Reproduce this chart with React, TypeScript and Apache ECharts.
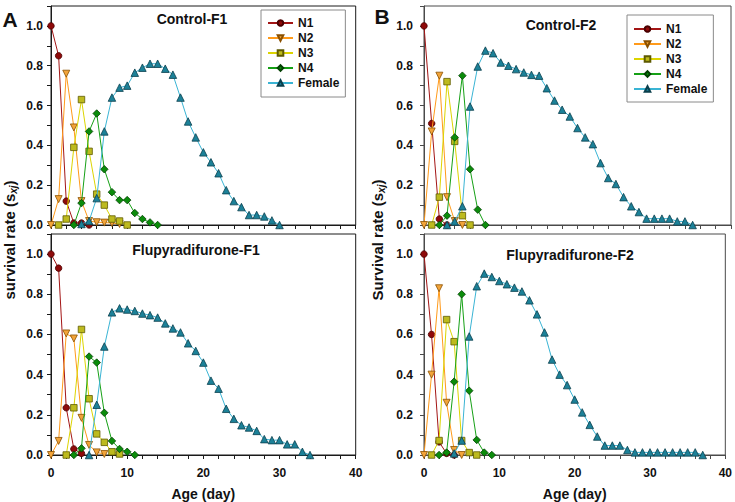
import React, { useEffect, useRef } from "react";
import * as echarts from "echarts";

// ---- Data (age in days starts at *_start; values = survival rate) ----
const seriesNames = ["N1", "N2", "N3", "N4", "Female"];
const panelTitles = ["Control-F1", "Flupyradifurone-F1", "Control-F2", "Flupyradifurone-F2"];
const xTickLabels = [0, 10, 20, 30, 40];

// Control-F1
const cf1_N1_start = 0;
const cf1_N1 = [1.0, 0.85, 0.12, 0.01, 0.01, 0];
const cf1_N2_start = 0;
const cf1_N2 = [0, 0.13, 0.76, 0.49, 0.12, 0.02, 0.014, 0.012, 0.01, 0.005];
const cf1_N3_start = 1;
const cf1_N3 = [0, 0.03, 0.39, 0.63, 0.37, 0.155, 0.1, 0.03, 0.02, 0];
const cf1_N4_start = 3;
const cf1_N4 = [0, 0.11, 0.47, 0.56, 0.28, 0.165, 0.125, 0.125, 0.06, 0.03, 0.013, 0];
const cf1_F_start = 4;
const cf1_F = [0.005, 0.02, 0.135, 0.47, 0.64, 0.69, 0.7, 0.765, 0.79, 0.81, 0.81, 0.785, 0.755, 0.64, 0.52, 0.44, 0.365, 0.315, 0.26, 0.175, 0.12, 0.09, 0.05, 0.05, 0.043, 0.023, 0];

// Flupyradifurone-F1
const ff1_N1_start = 0;
const ff1_N1 = [1.0, 0.93, 0.235, 0.03, 0.008];
const ff1_N2_start = 0;
const ff1_N2 = [0, 0.07, 0.605, 0.58, 0.185, 0.05, 0.013, 0.005];
const ff1_N3_start = 2;
const ff1_N3 = [0, 0.235, 0.625, 0.28, 0.105, 0.063, 0.016, 0.005];
const ff1_N4_start = 3;
const ff1_N4 = [0, 0.033, 0.49, 0.46, 0.21, 0.07, 0.03, 0.016, 0];
const ff1_F_start = 5;
const ff1_F = [0, 0.25, 0.54, 0.71, 0.73, 0.724, 0.717, 0.704, 0.696, 0.684, 0.655, 0.63, 0.61, 0.556, 0.518, 0.46, 0.37, 0.33, 0.23, 0.18, 0.148, 0.137, 0.12, 0.079, 0.074, 0.074, 0.053, 0.053, 0.016, 0];

// Control-F2
const cf2_N1_start = 0;
const cf2_N1 = [1.0, 0.51, 0.03, 0];
const cf2_N2_start = 0;
const cf2_N2 = [0, 0.47, 0.75, 0.14, 0.02, 0];
const cf2_N3_start = 1;
const cf2_N3 = [0, 0.14, 0.72, 0.42, 0.047, 0];
const cf2_N4_start = 2;
const cf2_N4 = [0, 0.047, 0.44, 0.75, 0.28, 0.077, 0];
const cf2_F_start = 3;
const cf2_F = [0, 0.018, 0.094, 0.595, 0.796, 0.876, 0.863, 0.816, 0.8, 0.783, 0.766, 0.754, 0.75, 0.687, 0.625, 0.579, 0.545, 0.487, 0.44, 0.406, 0.311, 0.236, 0.206, 0.14, 0.094, 0.065, 0.032, 0.032, 0.032, 0.032, 0.018, 0.018, 0];

// Flupyradifurone-F2
const ff2_N1_start = 0;
const ff2_N1 = [1.0, 0.6, 0.065, 0.008, 0];
const ff2_N2_start = 0;
const ff2_N2 = [0, 0.4, 0.83, 0.26, 0.025, 0];
const ff2_N3_start = 1;
const ff2_N3 = [0, 0.072, 0.674, 0.564, 0.072, 0.012, 0];
const ff2_N4_start = 2;
const ff2_N4 = [0, 0.012, 0.365, 0.8, 0.32, 0.075, 0.012, 0];
const ff2_F_start = 4;
const ff2_F = [0.008, 0.072, 0.59, 0.84, 0.903, 0.886, 0.866, 0.85, 0.833, 0.814, 0.77, 0.7, 0.61, 0.475, 0.4, 0.348, 0.276, 0.212, 0.15, 0.092, 0.047, 0.047, 0.047, 0.025, 0.013, 0.013, 0.013, 0.013, 0.013, 0.013, 0.013, 0.013, 0.013, 0];

const panels = [
  [[cf1_N1_start, cf1_N1], [cf1_N2_start, cf1_N2], [cf1_N3_start, cf1_N3], [cf1_N4_start, cf1_N4], [cf1_F_start, cf1_F]],
  [[ff1_N1_start, ff1_N1], [ff1_N2_start, ff1_N2], [ff1_N3_start, ff1_N3], [ff1_N4_start, ff1_N4], [ff1_F_start, ff1_F]],
  [[cf2_N1_start, cf2_N1], [cf2_N2_start, cf2_N2], [cf2_N3_start, cf2_N3], [cf2_N4_start, cf2_N4], [cf2_F_start, cf2_F]],
  [[ff2_N1_start, ff2_N1], [ff2_N2_start, ff2_N2], [ff2_N3_start, ff2_N3], [ff2_N4_start, ff2_N4], [ff2_F_start, ff2_F]],
] as [number, number[]][][];

// ---- Styles ----
const styles = [
  { symbol: "circle", rotate: 0, line: "#A31515", fill: "#8E0A0A", border: "#4A0000", size: 6.5 },
  { symbol: "triangle", rotate: 180, line: "#FF9A1A", fill: "#F2A43A", border: "#8A5000", size: 7 },
  { symbol: "rect", rotate: 0, line: "#DCD400", fill: "#BDBA1E", border: "#5E5A00", size: 6.5 },
  { symbol: "diamond", rotate: 0, line: "#16A016", fill: "#0B8C0B", border: "#034003", size: 7.5 },
  { symbol: "triangle", rotate: 0, line: "#3AB4D4", fill: "#1C8198", border: "#0A3F4C", size: 7.5 },
];

const FONT = "'Liberation Sans', Arial, sans-serif";

const grids = [
  { left: 51, top: 6, width: 304.7, height: 219 },
  { left: 51, top: 234, width: 304.7, height: 221.5 },
  { left: 424, top: 6, width: 307, height: 219 },
  { left: 424, top: 234, width: 307, height: 221.5 },
];

export default function App() {
  const ref = useRef<HTMLDivElement>(null);
  useEffect(() => {
    document.body.style.margin = "0";
    const chart = echarts.init(ref.current!, null, { renderer: "svg" });
    const axisCol = (i: number) => (i < 2 ? "#1a1a1a" : "#4a4a4a");

    const xAxis = grids.map((_, i) => ({
      type: "value",
      gridIndex: i,
      min: 0,
      max: 40,
      interval: 2,
      splitLine: { show: false },
      axisLine: { lineStyle: { color: axisCol(i), width: 1 } },
      axisTick: { length: 4, lineStyle: { color: axisCol(i) } },
      axisLabel: {
        show: i === 1 || i === 3,
        margin: 12,
        color: "#111",
        fontWeight: "bold",
        fontSize: 12,
        fontFamily: FONT,
        formatter: (v: number) => (xTickLabels.includes(v) ? String(v) : ""),
      },
      name: i === 1 || i === 3 ? "Age (day)" : "",
      nameLocation: "middle",
      nameGap: 32,
      nameTextStyle: { fontWeight: "bold", fontSize: 14, color: "#111", fontFamily: FONT },
    }));

    const yAxis = grids.map((_, i) => ({
      type: "value",
      gridIndex: i,
      min: 0,
      max: 1.1,
      interval: 0.1,
      splitLine: { show: false },
      axisLine: { show: true, lineStyle: { color: axisCol(i), width: 1 } },
      axisTick: { length: 4, lineStyle: { color: axisCol(i) } },
      axisLabel: {
        margin: i < 2 ? 8 : 11,
        color: "#111",
        fontWeight: "bold",
        fontSize: 12,
        fontFamily: FONT,
        formatter: (v: number) => {
          const k = Math.round(v * 10);
          return k % 2 === 0 && k <= 10 ? (k / 10).toFixed(1) : "";
        },
      },
    }));

    const series: any[] = [];
    panels.forEach((panel, gi) => {
      panel.forEach(([start, vals], si) => {
        const s = styles[si];
        series.push({
          type: "line",
          name: seriesNames[si],
          xAxisIndex: gi,
          yAxisIndex: gi,
          data: vals.map((v, k) => [start + k, v]),
          symbol: s.symbol,
          symbolSize: s.size,
          symbolRotate: s.rotate,
          showAllSymbol: true,
          color: s.fill,
          lineStyle: { color: s.line, width: 1 },
          itemStyle: { color: s.fill, borderColor: s.border, borderWidth: 0.8 },
          emphasis: { disabled: true },
          z: 2 + si,
        });
      });
    });

    const legendBase = {
      orient: "vertical",
      data: seriesNames,
      itemHeight: 7,
      itemGap: 1,
      borderColor: "#8a8a8a",
      borderWidth: 1,
      backgroundColor: "#fff",
      selectedMode: false,
      textStyle: { fontWeight: "bold", fontSize: 12, color: "#111", fontFamily: FONT, lineHeight: 14 },
    };

    const titleStyle = (x: number, y: number, t: string) => ({
      type: "text",
      x,
      y,
      style: { text: t, font: `bold 14px ${FONT}`, fill: "#111", textAlign: "center", textVerticalAlign: "middle" },
    });

    const yName = (x: number, first: string) => ({
      type: "text",
      x,
      y: 240,
      rotation: Math.PI / 2,
      style: {
        text: `{a|${first} (}{b|s}{c|xj}{a|)}`,
        textAlign: "center",
        textVerticalAlign: "middle",
        fill: "#111",
        rich: {
          a: { font: `bold 15px ${FONT}`, fill: "#111", lineHeight: 18, verticalAlign: "middle" },
          b: { font: `bold 15px ${FONT}`, fill: "#111", lineHeight: 18, verticalAlign: "middle" },
          c: { font: `italic bold 10px ${FONT}`, fill: "#111", lineHeight: 18, verticalAlign: "bottom", padding: [6, 0, 0, 0] },
        },
      },
    });

    chart.setOption({
      animation: false,
      grid: grids.map((g, i) => ({ ...g, show: true, borderColor: axisCol(i), borderWidth: 1, backgroundColor: "transparent" })),
      xAxis,
      yAxis,
      legend: [
        { ...legendBase, left: 261, top: 10, itemWidth: 25, padding: [6, 6, 7, 6] },
        { ...legendBase, left: 627, top: 15, itemWidth: 27, padding: [7, 6, 6, 6] },
      ],
      series,
      graphic: [
        titleStyle(192, 19, panelTitles[0]),
        titleStyle(196, 250, panelTitles[1]),
        titleStyle(561, 25, panelTitles[2]),
        titleStyle(570, 255, panelTitles[3]),
        { type: "text", x: 10, y: 19, style: { text: "A", font: `bold 21px ${FONT}`, fill: "#111", textAlign: "center", textVerticalAlign: "middle" } },
        { type: "text", x: 382, y: 16, style: { text: "B", font: `bold 21px ${FONT}`, fill: "#111", textAlign: "center", textVerticalAlign: "middle" } },
        yName(9, "survival rate"),
        yName(377, "Survival rate"),
      ],
    });
    return () => chart.dispose();
  }, []);
  return <div ref={ref} style={{ position: "absolute", left: 0, top: 0, width: 735, height: 502 }} />;
}
